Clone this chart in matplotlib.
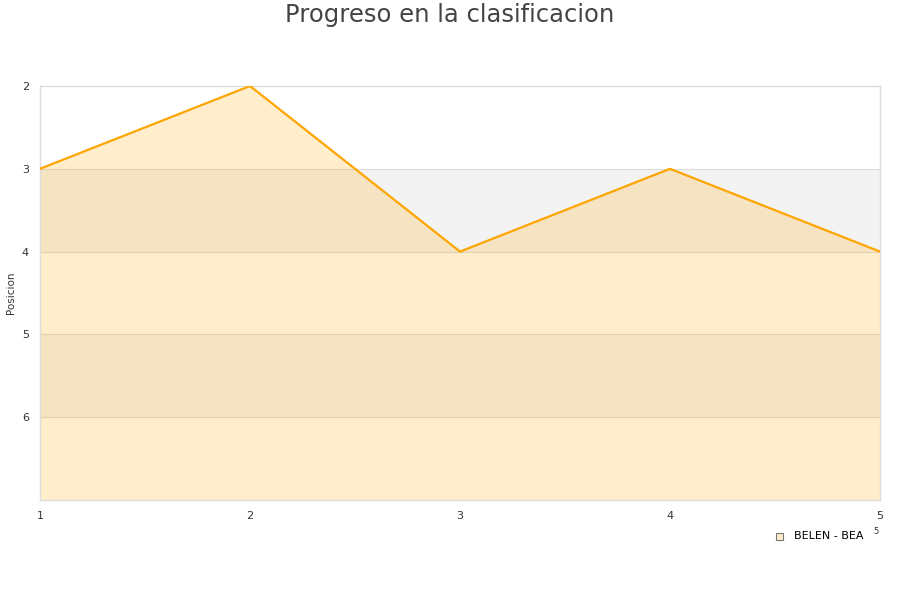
import matplotlib
matplotlib.use("Agg")
import matplotlib.pyplot as plt

jornadas = [1, 2, 3, 4, 5]
posiciones = [3, 2, 4, 3, 4]
series_name = "BELEN - BEA"
y_ticks = [2, 3, 4, 5, 6]

fig = plt.figure(figsize=(9, 6), dpi=100)
ax = fig.add_axes([40/900, 100/600, 840/900, 414/600])

ax.set_xlim(1, 5)
ax.set_ylim(7, 2)

for lo in (3, 5):
    ax.axhspan(lo, lo + 1, color="#f3f3f3", zorder=0, lw=0)
for t in y_ticks[1:]:
    ax.axhline(t, color="#dddddd", lw=0.8, zorder=1)

ax.fill_between(jornadas, posiciones, 7, color="orange", alpha=0.2, lw=0, zorder=2)
ax.plot(jornadas, posiciones, color="orange", lw=1.6, zorder=3)

ax.set_yticks(y_ticks)
ax.set_xticks(jornadas)
ax.tick_params(length=0, labelsize=8, colors="#333333")
ax.tick_params(axis="x", pad=8)
ax.tick_params(axis="y", pad=8)
for s in ax.spines.values():
    s.set_color("#dddddd")
    s.set_linewidth(1)

fig.text(11/900, 1 - 293/600, "Posicion", fontsize=7.5, color="#333333",
         rotation=90, ha="center", va="center")
fig.text(0.5, 1 - 15/600, "Progreso en la clasificacion", ha="center", va="center",
         fontsize=17.5, color="#444444")

# legend
fig.patches.append(plt.Rectangle((776/900, 1 - 540/600), 7/900, 7/600,
                                 transform=fig.transFigure, facecolor="#ffedcc",
                                 edgecolor="#777777", lw=0.8))
fig.text(794/900, 1 - 536/600, series_name, fontsize=8, va="center", ha="left", color="#000000")
fig.text(873/900, 1 - 532/600, "5", fontsize=6, va="center", ha="left", color="#333333")

fig.savefig("out.png", dpi=100)
